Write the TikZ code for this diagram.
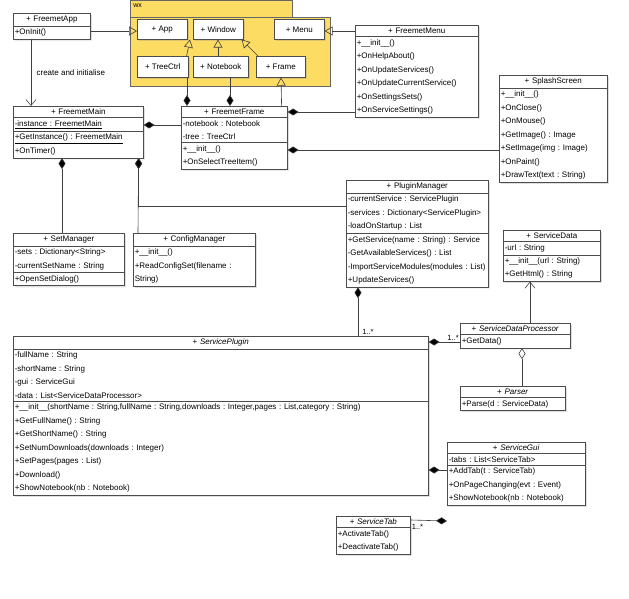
\documentclass[tikz,border=0pt]{standalone}
\usepackage{fontspec}
\setmainfont{Liberation Sans}
\frenchspacing
\usetikzlibrary{shapes.multipart,shadows,arrows.meta,calc,positioning}

\tikzset{
  cls/.style={rectangle split, rectangle split parts=#1, draw=black!70, fill=white,
    anchor=north west, align=left, inner xsep=1.5pt, inner ysep=2.5pt,
    font=\fontsize{8}{13.5}\selectfont,
    drop shadow={shadow xshift=1.5pt,shadow yshift=-1.5pt,opacity=.25}},
  cls/.default=3,
  wxcls/.style={draw=black!70, fill=white, anchor=north west, minimum height=20pt,
    font=\fontsize{8}{10}\selectfont, inner sep=0pt,
    drop shadow={shadow xshift=1.5pt,shadow yshift=-1.5pt,opacity=.25}},
  gen/.style={-{Triangle[open,length=8pt,width=9pt]}},
  comp/.style={{Diamond[length=11pt,width=7pt]}-},
  aggr/.style={{Diamond[open,length=11pt,width=7pt]}-},
  dep/.style={-{Straight Barb[length=6pt,width=10pt]}},
  mult/.style={font=\fontsize{7.5}{9}\selectfont, inner sep=1pt}
}

\begin{document}
\begin{tikzpicture}[x=1pt,y=-1pt, line width=0.6pt, draw=black!75]
\useasboundingbox (0,0) rectangle (629,599);

% wx package
\draw[fill=yellow!60!orange!60, draw=black!60] (130,0) rectangle (292,17);
\draw[fill=yellow!60!orange!60, draw=black!60] (130,17) rectangle (330,86);
\node[anchor=north west, font=\fontsize{7}{8}\selectfont, inner sep=1pt] (wxlabel) at (132,3) {wx};
\node[wxcls, minimum width=50pt] (wapp) at (137,19) {+ App};
\node[wxcls, minimum width=50pt] (wwin) at (193,19) {+ Window};
\node[wxcls, minimum width=50pt] (wmenu) at (274,19) {+ Menu};
\node[wxcls, minimum width=51pt, minimum height=21pt] (wtree) at (137,56) {+ TreeCtrl};
\node[wxcls, minimum width=55pt, minimum height=21pt] (wnb) at (193,56) {+ Notebook};
\node[wxcls, minimum width=49pt, minimum height=21pt] (wframe) at (256,56) {+ Frame};

% classes
\node[cls=2, text width=74pt] (app) at (13,13)
  {\centering + FreemetApp\par \nodepart{second} +OnInit()};
\node[cls, text width=127pt] (main) at (13,106)
  {\centering + FreemetMain\par
   \nodepart{second} \underline{-instance : FreemetMain}
   \nodepart{third} \underline{+GetInstance() : FreemetMain}\\+OnTimer()};
\node[cls, text width=103pt] (frame) at (181,106)
  {\centering + FreemetFrame\par
   \nodepart{second} -notebook : Notebook\\-tree : TreeCtrl
   \nodepart{third} +\_\_init\_\_()\\+OnSelectTreeItem()};
\node[cls=2, text width=120pt] (menu) at (355,25)
  {\centering + FreemetMenu\par
   \nodepart{second} +\_\_init\_\_()\\+OnHelpAbout()\\+OnUpdateServices()\\+OnUpdateCurrentService()\\+OnSettingsSets()\\+OnServiceSettings()};
\node[cls=2, text width=105pt] (splash) at (499,75)
  {\centering + SplashScreen\par
   \nodepart{second} +\_\_init\_\_()\\+OnClose()\\+OnMouse()\\+GetImage() : Image\\+SetImage(img : Image)\\+OnPaint()\\+DrawText(text : String)};
\node[cls, text width=139pt] (pm) at (346,180)
  {\centering + PluginManager\par
   \nodepart{second} -currentService : ServicePlugin\\-services : Dictionary<ServicePlugin>\\-loadOnStartup : List
   \nodepart{third} +GetService(name : String) : Service\\-GetAvailableServices() : List\\-ImportServiceModules(modules : List)\\+UpdateServices()};
\node[cls, text width=108pt] (setm) at (13,233)
  {\centering + SetManager\par
   \nodepart{second} -sets : Dictionary<String>\\-currentSetName : String
   \nodepart{third} +OpenSetDialog()};
\node[cls=2, text width=119pt] (conf) at (133,233)
  {\centering + ConfigManager\par
   \nodepart{second} +\_\_init\_\_()\\+ReadConfigSet(filename : String)};
\node[cls, text width=94pt] (sdata) at (503,230)
  {\centering + ServiceData\par
   \nodepart{second} -url : String
   \nodepart{third} +\_\_init\_\_(url : String)\\+GetHtml() : String};
\node[cls=2, text width=107pt] (sdp) at (460,323)
  {\centering + \textit{ServiceDataProcessor}\par
   \nodepart{second} +GetData()};
\node[cls=2, text width=102pt] (parser) at (460,386)
  {\centering + \textit{Parser}\par
   \nodepart{second} +Parse(d : ServiceData)};
\node[cls, text width=412pt] (sp) at (13,336)
  {\centering + \textit{ServicePlugin}\par
   \nodepart{second} -fullName : String\\-shortName : String\\-gui : ServiceGui\\-data : List<ServiceDataProcessor>
   \nodepart{third} +\_\_init\_\_(shortName : String,fullName : String,downloads : Integer,pages : List,category : String)\\+GetFullName() : String\\+GetShortName() : String\\+SetNumDownloads(downloads : Integer)\\+SetPages(pages : List)\\+Download()\\+ShowNotebook(nb : Notebook)};
\node[cls, text width=135pt] (sgui) at (447,442)
  {\centering + \textit{ServiceGui}\par
   \nodepart{second} -tabs : List<ServiceTab>
   \nodepart{third} +AddTab(t : ServiceTab)\\+OnPageChanging(evt : Event)\\+ShowNotebook(nb : Notebook)};
\node[cls=2, text width=71pt] (stab) at (336,516)
  {\centering + \textit{ServiceTab}\par
   \nodepart{second} +ActivateTab()\\+DeactivateTab()};

% wx relations
\draw[gen] ([yshift=-18pt]app.north east) -- ([yshift=-12pt]wapp.north west);
\draw[gen] ([xshift=-2pt]wtree.north east) -- ([xshift=-3pt]wwin.south west);
\draw[gen] ([xshift=25pt]wnb.north west) -- ([xshift=25pt]wwin.south west);
\draw[gen] ([xshift=2pt]wframe.north west) -- ([xshift=-2pt]wwin.south east);
\draw[gen] ([yshift=-6pt]menu.north west) -- ([yshift=-12pt]wmenu.north east);
\draw[gen] ([xshift=-6pt]frame.north east) -- ([xshift=25pt]wframe.south west);
\draw[comp] ([xshift=6pt]frame.north west) -- ([xshift=50pt]wtree.south west);
\draw[comp] ([xshift=49pt]frame.north west) -- ([xshift=37pt]wnb.south west);

% application relations
\draw[dep] ([xshift=18pt]app.south west) -- node[right, font=\fontsize{8}{10}\selectfont, xshift=2pt] {create and initialise} ([xshift=18pt]main.north west);
\draw[comp] ([yshift=-19pt]main.north east) -- ([yshift=-19pt]frame.north west);
\draw[comp] ([yshift=-6pt]frame.north east) -- ([yshift=-87pt]menu.north west);
\draw[comp] ([yshift=-44pt]frame.north east) -- ([yshift=-75pt]splash.north west);
\draw[comp] ([xshift=49pt]main.south west) -- ([xshift=49pt]setm.north west);
\draw[comp] ([xshift=-5pt]main.south east) -- ([xshift=5pt]conf.north west);
\draw[comp] ([xshift=-5pt]main.south east) |- ([yshift=-26pt]pm.north west);

% plugin relations
\draw[comp] ([xshift=12pt]pm.south west) -- ([xshift=345pt]sp.north west)
  node[mult, anchor=south west, xshift=3pt] {1..*};
\draw[comp] ([yshift=-6pt]sp.north east) -- ([yshift=-19pt]sdp.north west)
  node[mult, anchor=south east] {1..*};
\draw[dep] ([xshift=70pt]sdp.north west) -- ([xshift=27pt]sdata.south west);
\draw[aggr] ([xshift=62pt]sdp.south west) -- ([xshift=62pt]parser.north west);
\draw[comp] ([yshift=-134pt]sp.north east) -- ([yshift=-28pt]sgui.north west);
\draw[comp] ([yshift=-79pt]sgui.north west) -- ([yshift=-4pt]stab.north east)
  node[mult, anchor=north west, yshift=-3pt] {1..*};
\end{tikzpicture}
\end{document}
